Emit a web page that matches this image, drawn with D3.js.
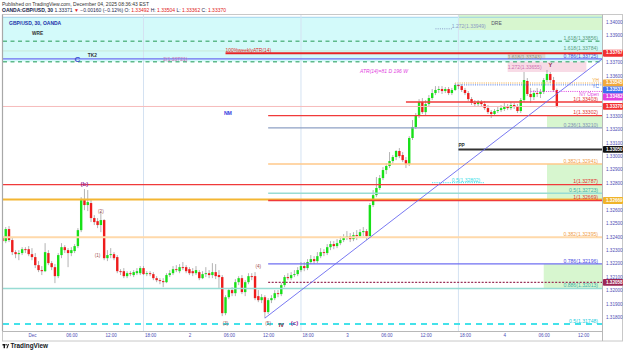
<!DOCTYPE html>
<html><head><meta charset="utf-8">
<script src="https://cdn.jsdelivr.net/npm/d3@7"></script>
<style>
html,body{margin:0;padding:0;background:#fff;}
svg{display:block;font-family:"Liberation Sans",Arial,sans-serif;}
</style></head><body>
<svg id="c" width="625" height="355"></svg>
<script>
// ---------------- DATA ----------------
const firstBar = "2025-11-30T19:30";
const barMinutes = 30;
// [open, high, low, close]
const ohlc = [
[1.32396,1.32433,1.32344,1.32366],[1.32366,1.32471,1.32351,1.32456],[1.32456,1.32478,1.32359,1.32374],[1.32374,1.32389,1.32262,1.32284],[1.32284,1.32299,1.32239,1.32269],
[1.32269,1.32299,1.32224,1.32277],[1.32277,1.32321,1.32262,1.32306],[1.32306,1.32321,1.32277,1.32299],[1.32306,1.32329,1.32254,1.32269],[1.32269,1.32314,1.32224,1.32247],
[1.32247,1.32277,1.32165,1.32187],[1.32187,1.32217,1.32135,1.32150],[1.32150,1.32180,1.32113,1.32142],[1.32142,1.32351,1.32135,1.32284],[1.32277,1.32299,1.32187,1.32202],
[1.32202,1.32217,1.32150,1.32172],[1.32172,1.32195,1.32053,1.32105],[1.32105,1.32277,1.32090,1.32262],[1.32262,1.32351,1.32239,1.32321],[1.32321,1.32336,1.32277,1.32299],
[1.32299,1.32314,1.32172,1.32277],[1.32277,1.32321,1.32254,1.32299],[1.32292,1.32344,1.32277,1.32329],[1.32329,1.32463,1.32314,1.32448],[1.32448,1.32694,1.32433,1.32672],
[1.32672,1.32754,1.32597,1.32635],[1.32635,1.32747,1.32590,1.32657],[1.32650,1.32672,1.32508,1.32538],[1.32538,1.32560,1.32486,1.32508],[1.32515,1.32538,1.32463,1.32486],
[1.32486,1.32590,1.32433,1.32523],[1.32523,1.32530,1.32224,1.32239],[1.32239,1.32299,1.32217,1.32262],[1.32262,1.32314,1.32239,1.32269],[1.32269,1.32284,1.32224,1.32239],
[1.32247,1.32262,1.32127,1.32142],[1.32142,1.32157,1.32113,1.32135],[1.32142,1.32165,1.32090,1.32105],[1.32105,1.32142,1.32090,1.32127],[1.32127,1.32142,1.32105,1.32120],
[1.32113,1.32150,1.32098,1.32135],[1.32127,1.32165,1.32113,1.32142],[1.32127,1.32180,1.32113,1.32165],[1.32165,1.32180,1.32113,1.32120],[1.32120,1.32142,1.32105,1.32127],
[1.32127,1.32142,1.32105,1.32120],[1.32120,1.32135,1.32075,1.32090],[1.32090,1.32105,1.32060,1.32075],[1.32075,1.32090,1.32045,1.32068],[1.32068,1.32090,1.32023,1.32060],
[1.32060,1.32127,1.32053,1.32113],[1.32113,1.32150,1.32098,1.32127],[1.32127,1.32180,1.32113,1.32157],[1.32157,1.32187,1.32135,1.32150],[1.32142,1.32195,1.32127,1.32172],
[1.32172,1.32210,1.32150,1.32165],[1.32172,1.32187,1.32127,1.32142],[1.32157,1.32172,1.32113,1.32127],[1.32142,1.32165,1.32105,1.32127],[1.32127,1.32180,1.32113,1.32150],
[1.32135,1.32150,1.32075,1.32090],[1.32090,1.32142,1.32083,1.32120],[1.32120,1.32172,1.32098,1.32127],[1.32127,1.32150,1.32090,1.32113],[1.32113,1.32202,1.32090,1.32135],
[1.32135,1.32195,1.32083,1.32105],[1.32113,1.32150,1.32016,1.32098],[1.32098,1.32113,1.31807,1.31829],[1.31829,1.31963,1.31814,1.31948],[1.31948,1.32016,1.31933,1.32001],
[1.32001,1.32023,1.31956,1.31978],[1.31978,1.32083,1.31956,1.32060],[1.32060,1.32105,1.32038,1.32090],[1.32090,1.32113,1.31971,1.31986],[1.31986,1.32075,1.31956,1.32060],
[1.32060,1.32127,1.32045,1.32105],[1.32105,1.32127,1.32075,1.32098],[1.32105,1.32135,1.31926,1.31941],[1.31956,1.32001,1.31911,1.31926],[1.31926,1.31971,1.31904,1.31948],
[1.31948,1.31963,1.31792,1.31837],[1.31837,1.31941,1.31822,1.31926],[1.31926,1.31963,1.31904,1.31941],[1.31941,1.32001,1.31926,1.31978],[1.31978,1.32001,1.31948,1.31971],
[1.31971,1.32053,1.31956,1.32038],[1.32038,1.32113,1.32023,1.32098],[1.32098,1.32127,1.32075,1.32090],[1.32090,1.32135,1.32075,1.32113],[1.32113,1.32150,1.32098,1.32120],
[1.32120,1.32172,1.32105,1.32150],[1.32150,1.32210,1.32135,1.32180],[1.32180,1.32210,1.32142,1.32165],[1.32165,1.32232,1.32150,1.32210],[1.32210,1.32262,1.32195,1.32232],
[1.32232,1.32254,1.32195,1.32217],[1.32217,1.32284,1.32202,1.32254],[1.32254,1.32314,1.32239,1.32284],[1.32284,1.32306,1.32254,1.32277],[1.32277,1.32344,1.32262,1.32321],
[1.32321,1.32366,1.32299,1.32344],[1.32344,1.32366,1.32306,1.32329],[1.32329,1.32381,1.32314,1.32351],[1.32351,1.32403,1.32336,1.32374],[1.32374,1.32418,1.32359,1.32389],
[1.32389,1.32441,1.32374,1.32403],[1.32403,1.32426,1.32359,1.32381],[1.32381,1.32433,1.32366,1.32411],[1.32411,1.32448,1.32374,1.32403],[1.32403,1.32456,1.32389,1.32433],
[1.32433,1.32471,1.32403,1.32441],[1.32441,1.32456,1.32374,1.32403],[1.32403,1.32650,1.32389,1.32635],[1.32635,1.32747,1.32620,1.32709],[1.32709,1.32844,1.32694,1.32762],
[1.32762,1.32859,1.32747,1.32836],[1.32836,1.32918,1.32821,1.32896],[1.32896,1.32948,1.32866,1.32926],[1.32926,1.33030,1.32911,1.32963],[1.32963,1.33008,1.32948,1.32993],
[1.32993,1.33045,1.32970,1.33038],[1.33038,1.33060,1.32985,1.33000],[1.33008,1.33030,1.32955,1.32970],[1.32970,1.32993,1.32911,1.32941],[1.32941,1.33149,1.32926,1.33135],
[1.33135,1.33269,1.33120,1.33217],[1.33217,1.33321,1.33202,1.33299],[1.33299,1.33425,1.33284,1.33403],[1.33403,1.33433,1.33314,1.33328],[1.33328,1.33418,1.33306,1.33388],
[1.33388,1.33455,1.33366,1.33433],[1.33433,1.33500,1.33418,1.33470],[1.33470,1.33522,1.33455,1.33493],[1.33493,1.33522,1.33470,1.33500],[1.33500,1.33522,1.33463,1.33485],
[1.33485,1.33515,1.33470,1.33500],[1.33500,1.33515,1.33455,1.33470],[1.33470,1.33508,1.33455,1.33493],[1.33493,1.33545,1.33485,1.33530],[1.33530,1.33537,1.33500,1.33522],
[1.33522,1.33537,1.33478,1.33493],[1.33493,1.33508,1.33455,1.33470],[1.33470,1.33485,1.33411,1.33425],[1.33425,1.33440,1.33381,1.33396],[1.33396,1.33418,1.33366,1.33388],
[1.33388,1.33418,1.33373,1.33403],[1.33403,1.33418,1.33366,1.33388],[1.33388,1.33411,1.33343,1.33358],[1.33358,1.33381,1.33314,1.33328],[1.33328,1.33343,1.33284,1.33314],
[1.33314,1.33351,1.33299,1.33336],[1.33336,1.33366,1.33321,1.33343],[1.33343,1.33381,1.33328,1.33358],[1.33351,1.33396,1.33336,1.33373],[1.33373,1.33388,1.33343,1.33358],
[1.33358,1.33403,1.33343,1.33381],[1.33381,1.33396,1.33351,1.33366],[1.33366,1.33388,1.33321,1.33336],[1.33336,1.33433,1.33321,1.33418],[1.33418,1.33627,1.33403,1.33567],
[1.33560,1.33582,1.33448,1.33463],[1.33463,1.33508,1.33396,1.33440],[1.33440,1.33493,1.33418,1.33470],[1.33470,1.33508,1.33440,1.33463],[1.33463,1.33500,1.33433,1.33478],
[1.33478,1.33582,1.33463,1.33567],[1.33567,1.33642,1.33552,1.33612],[1.33612,1.33627,1.33545,1.33567],[1.33567,1.33590,1.33478,1.33492],[1.33492,1.33504,1.33362,1.33370]
];
const priceTicks = [1.34,1.339,1.338,1.337,1.336,1.335,1.334,1.333,1.332,1.331,1.330,1.329,1.328,1.327,1.326,1.325,1.324,1.323,1.322,1.321,1.320,1.319,1.318];
const timeTicks = ["2025-12-01T00:00","2025-12-01T06:00","2025-12-01T12:00","2025-12-01T18:00","2025-12-02T00:00","2025-12-02T06:00","2025-12-02T12:00","2025-12-02T18:00","2025-12-03T00:00","2025-12-03T06:00","2025-12-03T12:00","2025-12-03T18:00","2025-12-04T00:00","2025-12-04T06:00","2025-12-04T12:00"];
const timeTickLabels = ["Dec","06:00","12:00","18:00","2","06:00","12:00","18:00","3","06:00","12:00","18:00","4","06:00","12:00"];
const sessionBreaks = ["2025-12-01T17:00","2025-12-02T17:00","2025-12-03T17:00"];
const viewStart = "2025-11-30T19:35", viewEnd = "2025-12-04T14:53";
const priceMin = 1.31696, priceMax = 1.34052;

// horizontal levels: price, label, start time (null = whole chart), kind
const levels = [
 {p:1.33856, text:"1.618(1.33856)", start:null, kind:"greenDash"},
 {p:1.33784, text:"1.618(1.33784)", start:null, kind:"faintGreen"},
 {p:1.33725, text:"0.786(1.33725)", start:null, kind:"blue"},
 {p:1.33704, text:"", start:null, kind:"greenDash"},
 {p:1.33370, text:"", start:null, kind:"lastPrice"},
 {p:1.33403, text:"1(1.33403)", start:"2025-12-03T09:00", kind:"red"},
 {p:1.33302, text:"1(1.33302)", start:"2025-12-02T12:00", kind:"red"},
 {p:1.33210, text:"0.236(1.33210)", start:"2025-12-02T12:00", kind:"slate"},
 {p:1.33050, text:"", start:"2025-12-03T17:00", kind:"pivot"},
 {p:1.32941, text:"0.382(1.32941)", start:"2025-12-02T12:00", kind:"orange"},
 {p:1.32787, text:"1(1.32787)", start:null, kind:"red"},
 {p:1.32723, text:"0.5(1.32723)", start:"2025-12-02T12:00", kind:"teal"},
 {p:1.32677, text:"", start:null, kind:"gold"},
 {p:1.32669, text:"1(1.32669)", start:"2025-12-02T12:00", kind:"red"},
 {p:1.32395, text:"0.382(1.32395)", start:null, kind:"peach"},
 {p:1.32196, text:"0.786(1.32196)", start:"2025-12-02T12:00", kind:"blue"},
 {p:1.32058, text:"", start:"2025-12-02T12:00", kind:"maroonDash"},
 {p:1.32013, text:"0.886(1.32013)", start:null, kind:"teal"},
 {p:1.31748, text:"0.5(1.31748)", start:null, kind:"cyanDash"}
];
// dotted daily levels: price, start, label, kind
const dottedLevels = [
 {p:1.33545, start:"2025-12-03T16:30", text:"YH", kind:"yh"},
 {p:1.33531, start:"2025-12-03T16:30", text:"YC", kind:"yc"},
 {p:1.33482, start:"2025-12-04T04:00", text:"NY Open", kind:"ny"}
];
const atrLevel = {p:1.33767, start:"2025-12-02T05:30", text:"100%weeklyATR(14)"};
const axisBadges = [
 {p:1.33767, kind:"red"},{p:1.33545, kind:"yh"},{p:1.33531, kind:"yc"},{p:1.33482, kind:"ny"},
 {p:1.33370, kind:"red"},{p:1.33050, kind:"pivot"},{p:1.32669, kind:"gold"},{p:1.32058, kind:"maroon"}
];
// zones: time from/to, price top/bottom
const zones = [
 {t0:"2025-11-30T19:35", t1:"2025-12-04T14:53", p0:1.34035, p1:1.33704, kind:"cyan"},
 {t0:"2025-12-03T17:00", t1:"2025-12-04T14:53", p0:1.34052, p1:1.33940, kind:"green"},
 {t0:"2025-12-04T06:30", t1:"2025-12-04T14:53", p0:1.33302, p1:1.33210, kind:"green"},
 {t0:"2025-12-04T06:30", t1:"2025-12-04T14:53", p0:1.32941, p1:1.32669, kind:"green"},
 {t0:"2025-12-04T06:00", t1:"2025-12-04T14:53", p0:1.32196, p1:1.32013, kind:"green"},
 {t0:"2025-12-04T00:30", t1:"2025-12-04T06:15", p0:1.33772, p1:1.33727, kind:"grey"},
 {t0:"2025-12-04T00:30", t1:"2025-12-04T12:30", p0:1.33704, p1:1.33627, kind:"pink"}
];
const trendLine = [{t:"2025-12-02T11:30", p:1.31792},{t:"2025-12-04T14:53", p:1.33723}];
const shortDotted = [
 {t0:"2025-12-03T13:30", t1:"2025-12-03T16:00", p:1.33949, text:"1.272(1.33949)", tx:"2025-12-03T16:00", kind:"slateDot"},
 {t0:"2025-12-03T13:00", t1:"2025-12-03T21:00", p:1.32802, text:"0.5(1.32802)", tx:"2025-12-03T16:00", kind:"cyanDot"}
];
const waveLabels = [
 {t:"2025-12-01T08:00", p:1.32791, text:"(b)", kind:"purple"},
 {t:"2025-12-01T10:30", p:1.32582, text:"(2)", kind:"small"},
 {t:"2025-12-01T10:00", p:1.32254, text:"(1)", kind:"small"},
 {t:"2025-12-02T05:30", p:1.31747, text:"(3)", kind:"small"},
 {t:"2025-12-02T10:30", p:1.32172, text:"(4)", kind:"small"},
 {t:"2025-12-02T12:00", p:1.31747, text:"(5)", kind:"small"},
 {t:"2025-12-02T14:00", p:1.31740, text:"IV", kind:"maroonBold"},
 {t:"2025-12-02T16:00", p:1.31755, text:"(c)", kind:"purple"},
 {t:"2025-12-04T07:00", p:1.33672, text:"Y", kind:"maroonBold"}
];
const notes = [
 {t:"2025-11-30T20:30", p:1.33990, text:"GBP/USD, 30, OANDA", kind:"symbol"},
 {t:"2025-12-01T00:00", p:1.33910, text:"WRE", kind:"dark"},
 {t:"2025-12-01T06:30", p:1.33714, text:"C", kind:"bigC"},
 {t:"2025-12-01T08:30", p:1.33745, text:"TK2", kind:"dark"},
 {t:"2025-12-01T20:00", p:1.33722, text:"2(1.33721)", kind:"pinkTxt"},
 {t:"2025-12-02T05:30", p:1.33788, text:"100%weeklyATR(14)", kind:"redTxt"},
 {t:"2025-12-02T05:15", p:1.33320, text:"NM", kind:"nm"},
 {t:"2025-12-03T02:00", p:1.33632, text:"ATR(14)=81 D  196 W", kind:"atr"},
 {t:"2025-12-03T17:00", p:1.33075, text:"PP", kind:"dark"},
 {t:"2025-12-03T22:00", p:1.33985, text:"DRE", kind:"dre"},
 {t:"2025-12-04T00:30", p:1.33735, text:"1.618(1.33743)", kind:"greyTxt"},
 {t:"2025-12-04T00:30", p:1.33660, text:"1.272(1.33655)", kind:"pinkTxt"}
];

// ---------------- STYLES ----------------
const lineStyle = {
 greenDash:{c:"#5fba8c", w:1.5, d:"4,3.5", lc:"#5b9e80"},
 faintGreen:{c:"#c6e6d2", w:0.8, d:null, lc:"#5b9e80"},
 blue:{c:"#6f6ff2", w:1.2, d:null, lc:"#4a4ae0"},
 lastPrice:{c:"#f6bcbc", w:1, d:null},
 red:{c:"#f03a3a", w:1.4, d:null, lc:"#e23030"},
 slate:{c:"#8ea0c4", w:1.2, d:null, lc:"#7d8fb5"},
 pivot:{c:"#333", w:2, d:null},
 orange:{c:"#ffc88a", w:1.5, d:null, lc:"#f0a04a"},
 teal:{c:"#98dcd4", w:1.3, d:null, lc:"#3fb0a8"},
 gold:{c:"#f3b632", w:2, d:null},
 peach:{c:"#ffd9aa", w:2, d:null, lc:"#f0a04a"},
 maroonDash:{c:"#9b3058", w:1.2, d:"2,1.5"},
 cyanDash:{c:"#44e2ea", w:2, d:"6,5", lc:"#22ccdd"}
};
const dotStyle = {yh:{c:"#f2a93b"}, yc:{c:"#4a78e8"}, ny:{c:"#e040e0"}, slateDot:{c:"#8a9ac4"}, cyanDot:{c:"#33dde8"}};
const badgeColor = {red:"#f23030", yh:"#f2a93b", yc:"#3d6df0", ny:"#e040e0", pivot:"#111", gold:"#f0b429", maroon:"#9c2755"};
const zoneColor = {cyan:"#d3fafa", green:"#d7f6cf", grey:"#d5dcd3", pink:"#f8dbe6"};
const textStyle = {
 purple:{c:"#9a2f9a", s:6.2, w:"bold"}, small:{c:"#a05050", s:4.6, w:"normal"}, maroonBold:{c:"#8b1f3a", s:5.6, w:"bold"},
 symbol:{c:"#2233aa", s:5, w:"bold"}, dark:{c:"#333", s:4.8, w:"bold"}, bigC:{c:"#3b4fd0", s:8, w:"bold"},
 pinkTxt:{c:"#cc6fb0", s:5, w:"normal"}, redTxt:{c:"#e02828", s:4.9, w:"normal"}, nm:{c:"#3a3ae0", s:5.2, w:"bold"},
 atr:{c:"#e23ce0", s:5, w:"normal", i:true}, dre:{c:"#556", s:5, w:"normal"}, greyTxt:{c:"#8a9a86", s:5, w:"normal"}
};

// ---------------- CHART ----------------
const parse = d3.utcParse("%Y-%m-%dT%H:%M");
const svg = d3.select("#c");
const L=3, R=602, T=15, B=331;
const x = d3.scaleUtc().domain([parse(viewStart), parse(viewEnd)]).range([L,R]);
const y = d3.scaleLinear().domain([priceMin, priceMax]).range([B,T]);
const t0 = parse(firstBar).getTime();
const bars = ohlc.map((r,i)=>({t:new Date(t0+i*barMinutes*60000), o:r[0], h:r[1], l:r[2], c:r[3]}));

svg.append("defs").append("clipPath").attr("id","pc").append("rect").attr("x",L).attr("y",T).attr("width",R-L).attr("height",B-T);
const plot = svg.append("g").attr("clip-path","url(#pc)");

// zones
plot.selectAll("rect.zone").data(zones).join("rect").attr("class","zone")
 .attr("x",d=>x(parse(d.t0))).attr("width",d=>x(parse(d.t1))-x(parse(d.t0)))
 .attr("y",d=>y(d.p0)).attr("height",d=>y(d.p1)-y(d.p0)).attr("fill",d=>zoneColor[d.kind]);
plot.append("line").attr("x1",L).attr("x2",R).attr("y1",y(zones[0].p0)).attr("y2",y(zones[0].p0)).attr("stroke","#8fc8e8").attr("stroke-width",0.8);

// session breaks
plot.selectAll("line.sess").data(sessionBreaks).join("line").attr("class","sess")
 .attr("x1",d=>x(parse(d))).attr("x2",d=>x(parse(d))).attr("y1",T).attr("y2",B).attr("stroke","#d4e2f2").attr("stroke-width",1);

// candles
const bw = 2.4;
plot.selectAll("line.wick").data(bars).join("line").attr("class","wick")
 .attr("x1",d=>x(d.t)).attr("x2",d=>x(d.t)).attr("y1",d=>y(d.h)).attr("y2",d=>y(d.l))
 .attr("stroke","#a0a0a0").attr("stroke-width",0.8);
plot.selectAll("rect.body").data(bars).join("rect").attr("class","body")
 .attr("x",d=>x(d.t)-bw/2).attr("width",bw)
 .attr("y",d=>y(Math.max(d.o,d.c))).attr("height",d=>Math.max(0.8,Math.abs(y(d.o)-y(d.c))))
 .attr("fill",d=>d.c>=d.o?"#18e018":"#ee1c1c");

// levels
const lv = plot.selectAll("g.lv").data(levels).join("g").attr("class","lv");
lv.append("line").attr("x1",d=>d.start?x(parse(d.start)):L).attr("x2",R)
 .attr("y1",d=>y(d.p)).attr("y2",d=>y(d.p))
 .attr("stroke",d=>lineStyle[d.kind].c).attr("stroke-width",d=>lineStyle[d.kind].w)
 .attr("stroke-dasharray",d=>lineStyle[d.kind].d);
lv.filter(d=>d.text).append("text").attr("x",598).attr("y",d=>y(d.p)-1.3).attr("text-anchor","end")
 .attr("font-size",5.1).attr("fill",d=>lineStyle[d.kind].lc).text(d=>d.text);

// ATR level
plot.append("line").attr("x1",x(parse(atrLevel.start))).attr("x2",R).attr("y1",y(atrLevel.p)).attr("y2",y(atrLevel.p)).attr("stroke","#e82424").attr("stroke-width",2);

// dotted levels
plot.selectAll("line.dl").data(dottedLevels).join("line").attr("class","dl")
 .attr("x1",d=>x(parse(d.start))).attr("x2",R).attr("y1",d=>y(d.p)).attr("y2",d=>y(d.p))
 .attr("stroke",d=>dotStyle[d.kind].c).attr("stroke-width",1).attr("stroke-dasharray","1,1.2");
plot.selectAll("text.dl").data(dottedLevels).join("text").attr("class","dl")
 .attr("x",599).attr("y",(d,i)=>y(d.p)+(i===0?-1.5:i===1?3.5:4.5)).attr("text-anchor","end")
 .attr("font-size",4.8).attr("fill",d=>dotStyle[d.kind].c).text(d=>d.text);

// short dotted
plot.selectAll("line.sd").data(shortDotted).join("line").attr("class","sd")
 .attr("x1",d=>x(parse(d.t0))).attr("x2",d=>x(parse(d.t1))).attr("y1",d=>y(d.p)).attr("y2",d=>y(d.p))
 .attr("stroke",d=>dotStyle[d.kind].c).attr("stroke-width",1).attr("stroke-dasharray","1,1.2");
plot.selectAll("text.sd").data(shortDotted).join("text").attr("class","sd")
 .attr("x",d=>x(parse(d.tx))).attr("y",d=>y(d.p)-0.5).attr("font-size",5)
 .attr("fill",d=>dotStyle[d.kind].c).text(d=>d.text);

// trend line
plot.append("line").attr("x1",x(parse(trendLine[0].t))).attr("y1",y(trendLine[0].p))
 .attr("x2",x(parse(trendLine[1].t))).attr("y2",y(trendLine[1].p)).attr("stroke","#6a6af0").attr("stroke-width",0.9);

// labels
const allTxt = waveLabels.map(d=>({...d,anchor:"middle"})).concat(notes.map(d=>({...d,anchor:"start"})));
plot.selectAll("text.lb").data(allTxt).join("text").attr("class","lb")
 .attr("x",d=>x(parse(d.t))).attr("y",d=>y(d.p)).attr("dominant-baseline","middle")
 .attr("text-anchor",d=>d.anchor).attr("font-size",d=>textStyle[d.kind].s)
 .attr("font-weight",d=>textStyle[d.kind].w).attr("font-style",d=>textStyle[d.kind].i?"italic":"normal")
 .attr("fill",d=>textStyle[d.kind].c).text(d=>d.text);

// frame
svg.append("rect").attr("x",2.5).attr("y",14.5).attr("width",620).attr("height",326.5).attr("fill","none").attr("stroke","#c8c8c8").attr("stroke-width",1);
svg.append("line").attr("x1",R+0.5).attr("x2",R+0.5).attr("y1",14.5).attr("y2",341).attr("stroke","#b8b8b8");
svg.append("line").attr("x1",2.5).attr("x2",R+0.5).attr("y1",B+0.5).attr("y2",B+0.5).attr("stroke","#b8b8b8");
svg.append("line").attr("x1",2.5).attr("x2",2.5).attr("y1",14.5).attr("y2",B).attr("stroke","#a8a8a8").attr("stroke-width",1.2);

// badge positions with collision avoidance
const bp = axisBadges.map(d=>({...d, yy:y(d.p)})).sort((a,b)=>a.yy-b.yy);
for(let i=1;i<bp.length;i++){ if(bp[i].yy-bp[i-1].yy<7) bp[i].yy=bp[i-1].yy+7; }

// price axis
const visibleTicks = priceTicks.filter(p=>!bp.some(b=>Math.abs(b.yy-y(p))<4.5));
const ya = svg.append("g").attr("transform",`translate(${R+3},0)`)
 .call(d3.axisRight(y).tickValues(visibleTicks).tickFormat(d3.format(".5f")).tickSize(0).tickPadding(1));
ya.select(".domain").remove();
ya.selectAll("text").attr("font-size",4.6).attr("fill","#4d4db5").attr("font-family","Liberation Sans, Arial, sans-serif");

const bg = svg.selectAll("g.badge").data(bp).join("g").attr("class","badge");
bg.append("rect").attr("x",R+1).attr("y",d=>d.yy-3.4).attr("width",20).attr("height",6.8).attr("rx",0.8).attr("fill",d=>badgeColor[d.kind]);
bg.append("text").attr("x",R+4).attr("y",d=>d.yy).attr("dominant-baseline","middle").attr("font-size",4.6)
 .attr("fill","#fff").attr("font-weight","bold").text(d=>d3.format(".5f")(d.p));

// time axis
const xa = svg.append("g").attr("transform",`translate(0,${B})`)
 .call(d3.axisBottom(x).tickValues(timeTicks.map(parse)).tickFormat((d,i)=>timeTickLabels[i]).tickSize(0).tickPadding(3));
xa.select(".domain").remove();
xa.selectAll("text").attr("font-size",4.5).attr("fill","#4d4db5").attr("font-family","Liberation Sans, Arial, sans-serif");

// header
svg.append("text").attr("x",2).attr("y",5.5).attr("font-size",5).attr("fill","#333")
 .text("Published on TradingView.com, December 04, 2025 08:36:43 EST");
const h = svg.append("text").attr("x",2).attr("y",11.5).attr("font-size",5).attr("fill","#1a1f4d");
h.append("tspan").attr("font-weight","bold").text("OANDA:GBP/USD, 30 ");
h.append("tspan").text(" 1.33371 ");
h.append("tspan").attr("fill","#e02020").text("▼");
h.append("tspan").text(" −0.00160 (−0.12%)  O: ");
h.append("tspan").attr("fill","#e02020").text("1.33492");
h.append("tspan").text("  H: ");
h.append("tspan").attr("fill","#e02020").text("1.33504");
h.append("tspan").text("  L: ");
h.append("tspan").attr("fill","#e02020").text("1.33362");
h.append("tspan").text("  C: ");
h.append("tspan").attr("fill","#e02020").text("1.33370");

// footer logo
const f = svg.append("g");
f.append("rect").attr("x",2.5).attr("y",344).attr("width",2.6).attr("height",1.5).attr("fill","#111");
f.append("rect").attr("x",3.6).attr("y",344).attr("width",1.4).attr("height",4.2).attr("fill","#111");
f.append("circle").attr("cx",6.1).attr("cy",344.8).attr("r",0.75).attr("fill","#111");
f.append("path").attr("d","M6.4,348.2 L7.9,344 L9,344 L7.5,348.2 Z").attr("fill","#111");
f.append("text").attr("x",10.5).attr("y",348.4).attr("font-size",6.4).attr("font-weight","bold").attr("fill","#131722").text("TradingView");
</script>
</body></html>
